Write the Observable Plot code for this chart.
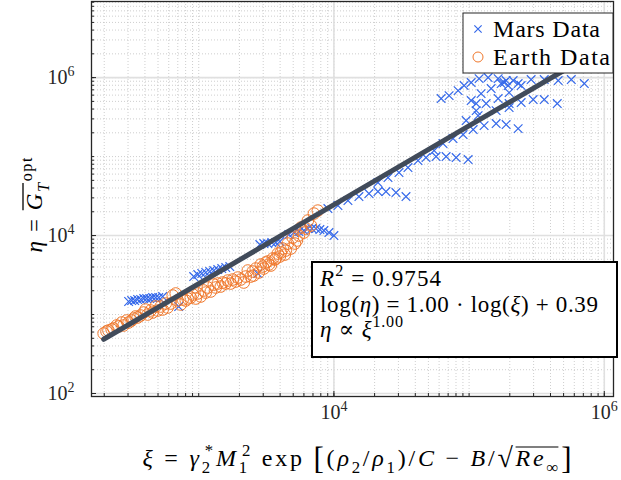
<!DOCTYPE html>
<html>
<head>
<meta charset="utf-8">
<script src="https://cdn.jsdelivr.net/npm/d3@7"></script>
<script src="https://cdn.jsdelivr.net/npm/@observablehq/plot@0.6"></script>
<style>
  body { margin: 0; background: #fff; }
  #chart svg text { font-family: "Liberation Serif", "DejaVu Serif", serif; }
</style>
</head>
<body>
<div id="chart"></div>
<script>
// Mars measurements: similarity parameter xi and optimal thermal gradient eta
const marsXi = [
  303, 319, 336, 353, 372, 392, 412, 434, 456, 480, 506, 541, 711,
  918, 984, 1053, 1127, 1206, 1292, 1383, 1480, 1585, 1697, 2735,
  2831, 3030, 3243, 3472, 3717, 3981,
  4642, 5058, 5510, 5995, 6418, 6871, 7356, 7875, 8431, 9184, 10000,
  9028, 10710, 12700, 15310, 18160, 21170, 24270, 28780, 34140,
  21170, 25120, 30290, 35300, 41880, 47990, 56980, 67610, 80200, 98400,
  55080, 64120, 76040, 90290, 107200, 95080, 129100, 158500, 187900, 230600,
  112800, 116600, 133700, 112800, 158500, 164000, 197700, 242700, 297800, 359600,
  448900, 103600, 122700, 145600, 172700, 197700, 194500, 230600, 187900, 197700,
  62100, 71130, 82950, 91880, 103600, 118600, 138300, 164000, 181600,
  211800, 242700, 287700, 359600, 456300, 570000, 711300
];
const marsEta = [
  1462, 1504, 1504, 1549, 1549, 1594, 1594, 1594, 1641, 1641, 1641, 1690, 1262,
  3027, 3208, 3306, 3404, 3503, 3606, 3712, 3821, 3934, 4050, 3306,
  7692, 7925, 7925, 8150, 8150, 8395,
  10300, 10915, 11240, 11570, 12270, 12270, 12270, 11910, 11570, 10915, 10000,
  21990, 23990, 27760, 31180, 34030, 36070, 36070, 35000, 31180,
  46900, 54200, 62700, 72560, 88990, 97100, 100000, 100000, 97100, 91600,
  119100, 146200, 169100, 189800, 219600, 285600, 246600, 261600, 254100, 226000,
  382000, 330200, 468800, 468800, 382000, 542300, 468800, 482900, 526800, 526800,
  468800, 511600, 627100, 725600, 839600, 645700, 792400, 839600, 916200, 417000,
  542300, 591500, 684300, 792400, 864500, 970500, 1000000, 970500, 864500,
  916200, 792400, 943600, 943600, 916200, 943600, 839600
];

// Earth measurements
const earthXi = [
  198, 208, 215, 227, 234, 247, 255, 269, 278, 293, 303, 319, 330, 341, 353, 372, 392,
  405, 419, 441, 456, 480, 497, 523, 541, 570, 589, 620, 642, 676, 699, 736, 761, 802,
  829, 873, 904, 951, 984, 1035, 1090, 1127, 1167, 1227, 1292, 1337, 1383, 1456, 1506,
  1585, 1641, 1726, 1786, 1880, 1945, 2048, 2154, 2229, 2307, 2427, 2512, 2553, 2642,
  2780, 2877, 2979, 3030, 3133, 3243, 3304, 3413, 3532, 3658, 3717, 3846, 3981, 4048,
  4188, 4334, 4407, 4560, 4798, 4966, 5140, 5321, 5510, 5702, 5995, 6210, 6418, 6761,
  7114, 7603
];
const earthEta = [
  575, 610, 627, 646, 665, 726, 705, 792, 726, 840, 792, 840, 890, 944, 916, 971, 1060,
  1157, 1000, 1124, 1060, 1262, 1124, 1262, 1157, 1376, 1227, 1376, 1741, 1846, 1504, 1339, 1549, 1504,
  1594, 1641, 1791, 1594, 1846, 1690, 2014, 1897, 2198, 1956, 2398, 2198, 2468, 2262, 2542,
  2468, 2692, 2468, 2773, 2616, 2938, 2773, 2542, 3027, 3606, 3027, 3503, 3118, 3821,
  3404, 4295, 4050, 3821, 4550, 4689, 4295, 4169, 5117, 4966, 5117, 5913, 5420, 6092,
  6843, 5741, 6456, 7925, 6843, 9434, 7925, 8648, 10000, 12620, 10915, 12270, 15490, 13390,
  18970, 20700
];

// Power-law fit in log10 space
const fitSlope = 1.00;
const fitIntercept = 0.39;
const rSquared = 0.9754;

// Axis ranges and labelled decades
const xDomain = [161, 1.17e6];
const yDomain = [91.6, 9.2e6];
const xTicksMajor = [1e4, 1e6];
const yTicksMajor = [1e2, 1e4, 1e6];

const blue = "#3468ea";
const orange = "#f0782c";
const fitColor = "#414b5a";
const axisColor = "#262626";

const mars = marsXi.map((xi, i) => ({xi, eta: marsEta[i]}));
const earth = earthXi.map((xi, i) => ({xi, eta: earthEta[i]}));
const xiLo = d3.min(marsXi.concat(earthXi));
const xiHi = d3.max(marsXi.concat(earthXi));
const fit = [xiLo, xiHi].map(xi => ({xi, eta: Math.pow(10, fitIntercept) * Math.pow(xi, fitSlope)}));

// every 1..9 x 10^k inside a domain, for minor grid and ticks
function decadeTicks([lo, hi]) {
  const out = [];
  for (let k = Math.floor(Math.log10(lo)); k <= Math.ceil(Math.log10(hi)); k++)
    for (let m = 1; m <= 9; m++) {
      const v = m * Math.pow(10, k);
      if (v >= lo && v <= hi) out.push(v);
    }
  return out;
}
const xMinor = decadeTicks(xDomain);
const yMinor = decadeTicks(yDomain);
const powLabel = d => "10^" + Math.round(Math.log10(d));

const plot = Plot.plot({
  width: 621,
  height: 480,
  marginLeft: 91,
  marginRight: 8,
  marginTop: 1,
  marginBottom: 84,
  style: {background: "#fff"},
  x: {type: "log", domain: xDomain, label: null},
  y: {type: "log", domain: yDomain, label: null},
  marks: [
    Plot.gridX(xMinor, {stroke: "#b9b9b9", strokeOpacity: 1, strokeWidth: 0.7, strokeDasharray: "1 2"}),
    Plot.gridY(yMinor, {stroke: "#b9b9b9", strokeOpacity: 1, strokeWidth: 0.7, strokeDasharray: "1 2"}),
    Plot.gridX(xTicksMajor, {stroke: "#e0e0e0", strokeOpacity: 1, strokeWidth: 1.6}),
    Plot.gridY(yTicksMajor, {stroke: "#e0e0e0", strokeOpacity: 1, strokeWidth: 1.6}),
    Plot.axisX(xMinor, {tickSize: -3, tickFormat: () => "", stroke: axisColor, label: null}),
    Plot.axisY(yMinor, {tickSize: -3, tickFormat: () => "", stroke: axisColor, label: null}),
    Plot.axisX(xTicksMajor, {tickSize: -5, tickFormat: () => "", stroke: axisColor, label: null}),
    Plot.axisY(yTicksMajor, {tickSize: -5, tickFormat: () => "", stroke: axisColor, label: null}),
    Plot.axisX(xTicksMajor, {tickSize: 0, tickPadding: 8, tickFormat: powLabel, fontSize: 20, fill: "#262626", label: null}),
    Plot.axisY(yTicksMajor, {tickSize: 0, tickPadding: 17, tickFormat: powLabel, fontSize: 20, fill: "#262626", label: null}),
    Plot.dot(mars, {x: "xi", y: "eta", symbol: "times", r: 4, stroke: blue, strokeWidth: 1.2}),
    Plot.dot(earth, {x: "xi", y: "eta", symbol: "circle", r: 5.8, stroke: orange, fill: "none", strokeWidth: 1}),
    Plot.line(fit, {x: "xi", y: "eta", stroke: fitColor, strokeWidth: 5}),
    Plot.frame({stroke: axisColor, strokeWidth: 1.3})
  ]
});
document.getElementById("chart").append(plot);

const svg = d3.select(plot);

// "10^k" tick labels -> 10 with a raised exponent
svg.selectAll('g[aria-label$="tick label"] text').each(function () {
  const s = this.textContent;
  if (!s.includes("^")) return;
  const [base, exp] = s.split("^");
  const t = d3.select(this);
  t.text(null);
  t.append("tspan").text(base);
  t.append("tspan").attr("dy", -8).attr("font-size", 14).text(exp);
});

// rich text: italic / sub / sup pieces on one baseline
function richText(g, parts, size, anchor = "start") {
  const text = g.append("text").attr("font-size", size).attr("fill", "#000")
    .attr("text-anchor", anchor);
  let cur = 0, idx = 0;
  const spans = [];
  for (const p of parts) {
    const shift = p.sub ? size * 0.3 : p.sup ? -size * 0.42 : (p.shift || 0);
    const ts = text.append("tspan").text(p.t);
    if (shift !== cur) ts.attr("dy", shift - cur);
    cur = shift;
    if (p.sub || p.sup) ts.attr("font-size", size * 0.7);
    if (p.size) ts.attr("font-size", p.size);
    if (p.i) ts.attr("font-style", "italic");
    if (p.dx) ts.attr("dx", p.dx);
    spans.push({start: idx, end: idx + p.t.length - 1, p});
    idx += p.t.length;
  }
  return {text, spans};
}
function overline(g, rt, y, width) {
  const node = rt.text.node();
  const over = rt.spans.filter(s => s.p.over);
  if (!over.length) return;
  const x1 = node.getStartPositionOfChar(over[0].start).x;
  const x2 = node.getEndPositionOfChar(over[over.length - 1].end).x;
  g.append("line").attr("x1", x1).attr("x2", x2).attr("y1", y).attr("y2", y)
    .attr("stroke", "#000").attr("stroke-width", width);
}

// x-axis title
const gx = svg.append("g").attr("transform", "translate(357,466)");
const xt = richText(gx, [
  {t: "ξ", i: 1}, {t: " = "}, {t: "γ", i: 1}, {t: "2", sub: 1}, {t: "*", sup: 1, dx: -8},
  {t: "M", i: 1}, {t: "1", sub: 1}, {t: "2", sup: 1, dx: -8}, {t: " exp "},
  {t: "[", size: 31, shift: 3}, {t: "("}, {t: "ρ", i: 1}, {t: "2", sub: 1}, {t: "/"},
  {t: "ρ", i: 1}, {t: "1", sub: 1}, {t: ")/"}, {t: "C", i: 1}, {t: " − "}, {t: "B", i: 1},
  {t: "/"}, {t: "√", size: 28, shift: 1}, {t: "Re", i: 1, over: 1}, {t: "∞", sub: 1, over: 1},
  {t: "]", size: 31, shift: 3}
], 24, "middle");
xt.text.attr("textLength", 429).attr("lengthAdjust", "spacing");
overline(gx, xt, -19, 1.2);

// y-axis title
const gy = svg.append("g").attr("transform", "translate(42,205) rotate(-90)");
const yt = richText(gy, [
  {t: "η", i: 1}, {t: " = "}, {t: "G", i: 1, over: 1}, {t: "T", i: 1, sub: 1, over: 1}, {t: "opt", sup: 1}
], 23, "middle");
yt.text.attr("textLength", 95).attr("lengthAdjust", "spacing");
overline(gy, yt, -19, 1.3);

// legend
const gl = svg.append("g");
gl.append("rect").attr("x", 463).attr("y", 13).attr("width", 150).attr("height", 60)
  .attr("fill", "#fff").attr("stroke", axisColor).attr("stroke-width", 1);
gl.append("path").attr("transform", "translate(478,29)")
  .attr("d", d3.symbol(d3.symbolTimes, Math.PI * 3.4 * 3.4)()).attr("fill", "none")
  .attr("stroke", blue).attr("stroke-width", 1.2);
gl.append("path").attr("transform", "translate(478,57)")
  .attr("d", d3.symbol(d3.symbolCircle, Math.PI * 5 * 5)()).attr("fill", "none")
  .attr("stroke", orange).attr("stroke-width", 1);
gl.append("text").attr("x", 493).attr("y", 37).attr("font-size", 24).attr("text-anchor", "start")
  .attr("textLength", 107).attr("lengthAdjust", "spacing").text("Mars Data");
gl.append("text").attr("x", 493).attr("y", 65).attr("font-size", 24).attr("text-anchor", "start")
  .attr("textLength", 117).attr("lengthAdjust", "spacing").text("Earth Data");

// fit annotation
const ga = svg.append("g");
ga.append("rect").attr("x", 312).attr("y", 262).attr("width", 305).attr("height", 95)
  .attr("fill", "#fff").attr("stroke", "#000").attr("stroke-width", 2);
const l1 = ga.append("g").attr("transform", "translate(320,286)");
richText(l1, [{t: "R", i: 1}, {t: "2", sup: 1}, {t: " = " + rSquared.toFixed(4)}], 23)
  .text.attr("textLength", 121).attr("lengthAdjust", "spacing");
const l2 = ga.append("g").attr("transform", "translate(320,312)");
richText(l2, [
  {t: "log("}, {t: "η", i: 1}, {t: ") = " + fitSlope.toFixed(2) + " · log("}, {t: "ξ", i: 1},
  {t: ") + " + fitIntercept.toFixed(2)}
], 23).text.attr("textLength", 278).attr("lengthAdjust", "spacing");
const l3 = ga.append("g").attr("transform", "translate(320,337)");
richText(l3, [{t: "η", i: 1}, {t: " ∝ "}, {t: "ξ", i: 1}, {t: fitSlope.toFixed(2), sup: 1}], 23)
  .text.attr("textLength", 83).attr("lengthAdjust", "spacing");
</script>
</body>
</html>
